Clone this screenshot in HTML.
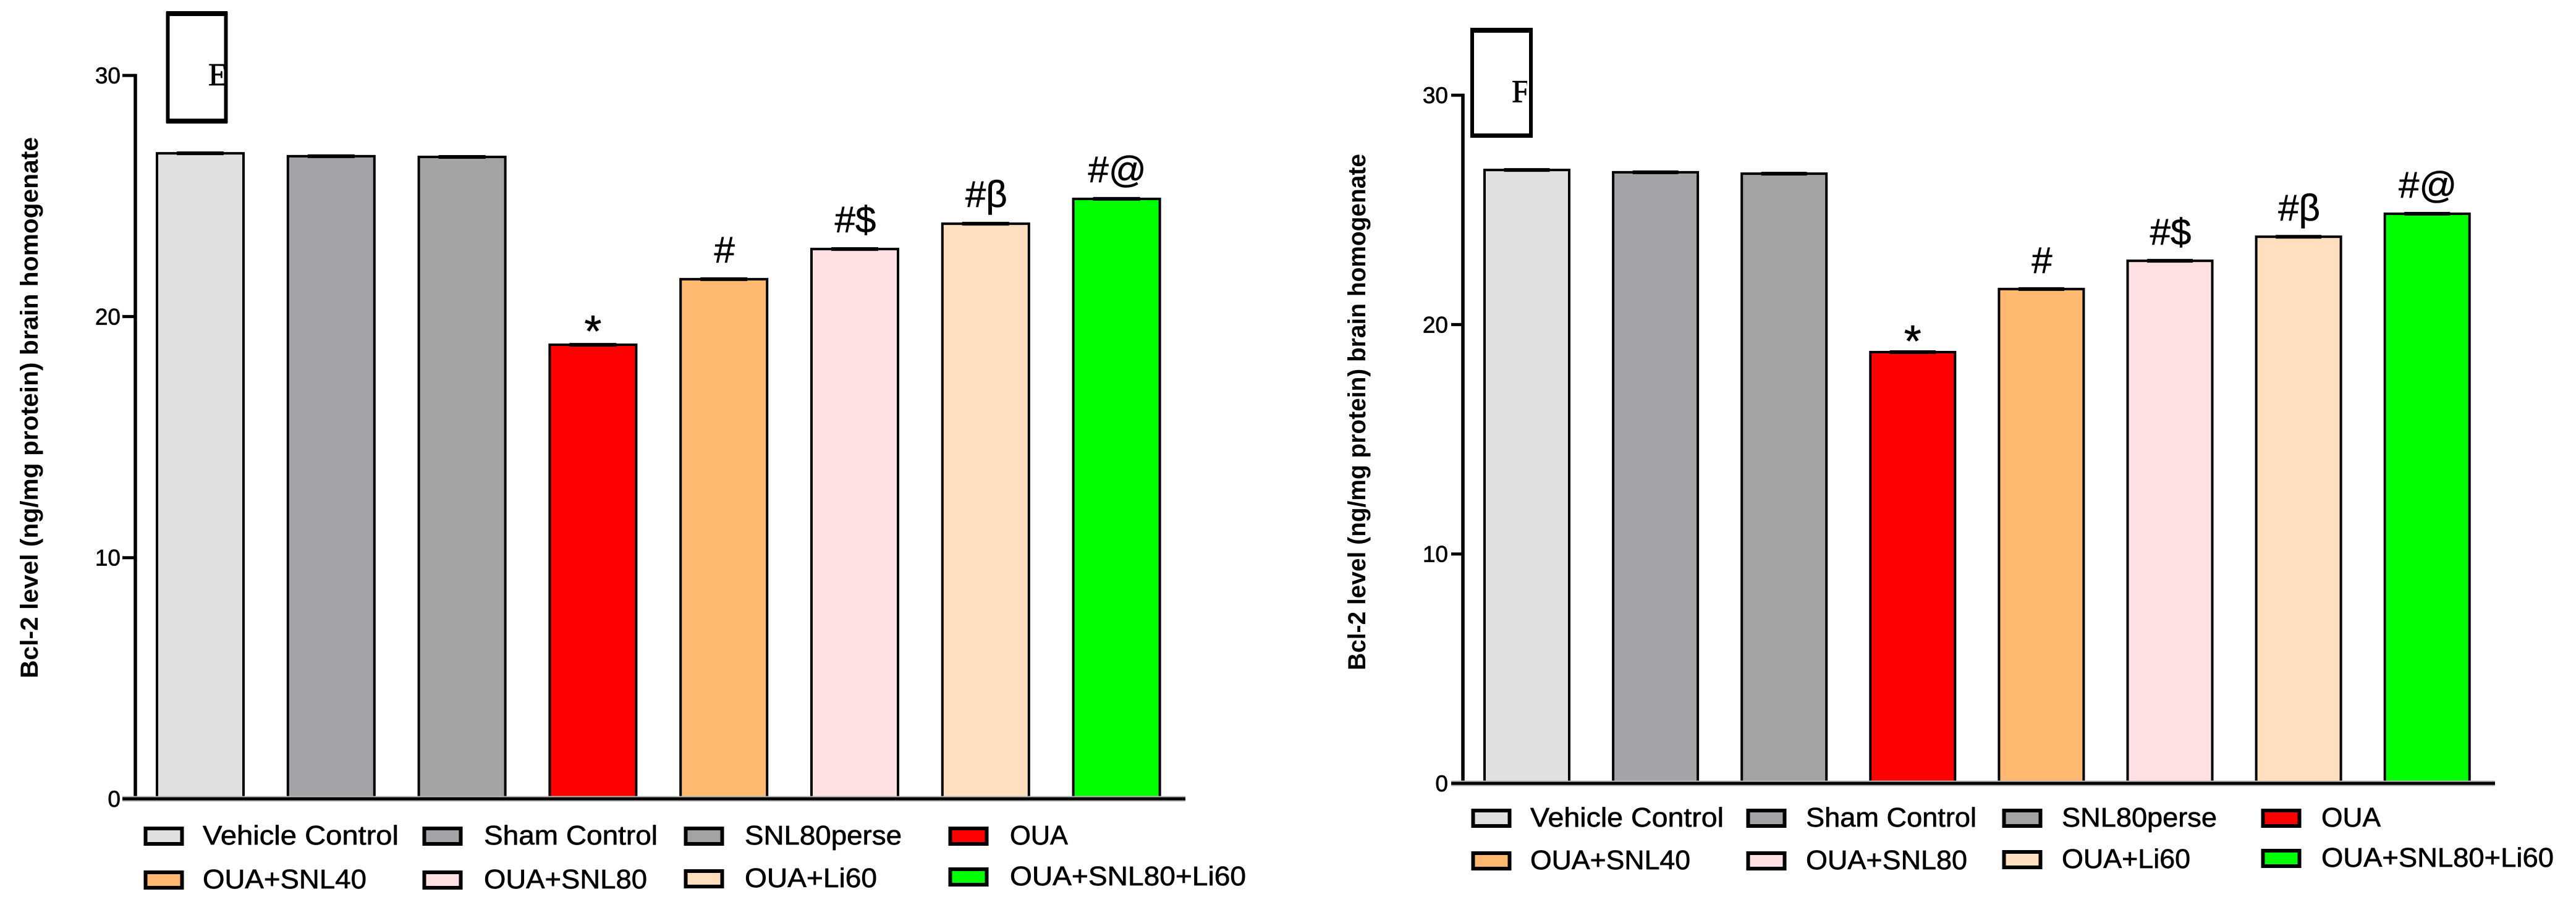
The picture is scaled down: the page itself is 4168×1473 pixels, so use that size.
<!DOCTYPE html>
<html lang="en">
<head>
<meta charset="utf-8">
<title>Bcl-2 level charts E and F</title>
<style>
html,body{margin:0;padding:0;background:#fff;}
body{width:4168px;height:1473px;overflow:hidden;}
svg{display:block;}
text{font-family:"Liberation Sans",sans-serif;fill:#000;}
</style>
</head>
<body>
<svg id="figure" width="4168" height="1473" viewBox="0 0 4168 1473" xmlns="http://www.w3.org/2000/svg">
  <rect x="0" y="0" width="4168" height="1473" fill="#ffffff"/>
  <g id="panel-e">
    <text transform="translate(61 1098) rotate(-90)" font-size="40" font-weight="bold" textLength="876" lengthAdjust="spacingAndGlyphs">Bcl-2 level (ng/mg protein) brain homogenate</text>
  </g>
  <g id="panel-f">
    <text transform="translate(2209 1085) rotate(-90)" font-size="40" font-weight="bold" textLength="836" lengthAdjust="spacingAndGlyphs">Bcl-2 level (ng/mg protein) brain homogenate</text>
  </g>
  <g>
    <rect x="271.5" y="22" width="94" height="174" fill="#fff" stroke="#000" stroke-width="6"/>
    <rect x="269" y="18" width="99" height="8" fill="#000"/>
    <rect x="269" y="192" width="99" height="8" fill="#000"/>
    <svg x="274" y="90" width="89" height="60">
      <text x="63" y="48" font-size="52" stroke="#000" stroke-width="0.8" style="font-family:'Liberation Serif',serif">E</text>
    </svg>
  </g>
  <g>
    <rect x="2382" y="49" width="95" height="171" fill="#fff" stroke="#000" stroke-width="6"/>
    <rect x="2379" y="45" width="101" height="8" fill="#000"/>
    <rect x="2379" y="216" width="101" height="7" fill="#000"/>
    <svg x="2385" y="118" width="86" height="60">
      <text x="61" y="47" font-size="52" stroke="#000" stroke-width="0.8" style="font-family:'Liberation Serif',serif">F</text>
    </svg>
  </g>
</svg>
<script>
var categories = ["Vehicle Control","Sham Control","SNL80perse","OUA","OUA+SNL40","OUA+SNL80","OUA+Li60","OUA+SNL80+Li60"];
var valuesE = [26.77,26.65,26.62,18.83,21.55,22.8,23.85,24.88];
var valuesF = [26.74,26.64,26.58,18.8,21.55,22.78,23.83,24.83];
var errorsE = [0.05,0.05,0.05,0.05,0.05,0.05,0.05,0.05];
var errorsF = [0.05,0.05,0.05,0.05,0.05,0.05,0.05,0.05];
var annotations = ["","","","*","#","#$","#\u03B2","#@"];
var tickValues = [0,10,20,30];
var tickLabels = ["0","10","20","30"];
var barColors = ["#e0e0e0","#a3a4a8","#a3a3a3","#ff0000","#ffb870","#ffe0e3","#ffdfbd","#00ff00"];

var NS = "http://www.w3.org/2000/svg";

function node(tag, attrs, parent) {
  var el = document.createElementNS(NS, tag);
  for (var k in attrs) { el.setAttribute(k, attrs[k]); }
  parent.appendChild(el);
  return el;
}

function drawChart(cfg) {
  var g = document.getElementById(cfg.groupId);
  function y(v) { return cfg.y0 - v * cfg.pxPerUnit; }
  function x(i) { return cfg.barStart + i * cfg.barPitch; }

  cfg.values.forEach(function (v, i) {
    var bar = node("rect", {x: x(i), y: y(v), width: cfg.barWidth, height: cfg.y0 - y(v), fill: barColors[i], stroke: "#000", "stroke-width": cfg.barStroke}, g);
    
    

    var cx = x(i) + cfg.barWidth / 2;
    var cap = node("line", {x1: cx - cfg.capWidth / 2, x2: cx + cfg.capWidth / 2, y1: y(v), y2: y(v), stroke: "#000", "stroke-width": 6}, g);
    
    

    var stem = node("line", {x1: cx, x2: cx, y1: y(v), y2: y(v + cfg.errors[i]), stroke: "#000", "stroke-width": 3}, g);
    
    

    if (annotations[i]) {
      var star = annotations[i] === "*";
      var note = node("text", {x: cx + (star ? cfg.starShift : 1), y: y(v) - (star ? cfg.starOffset : cfg.noteOffset), "font-size": star ? 72 : 60, "text-anchor": "middle", stroke: "#000", "stroke-width": 0.6}, g);
      note.textContent = annotations[i];
      
      
    }
  });

  var yAxis = node("line", {x1: cfg.axisX, x2: cfg.axisX, y1: y(tickValues[tickValues.length - 1]) - 2.5, y2: cfg.y0, stroke: "#000", "stroke-width": 5.5}, g);
  
  

  var halo = node("line", {x1: cfg.axisStart, x2: cfg.axisEnd, y1: cfg.y0, y2: cfg.y0, stroke: "#b8b8b8", "stroke-width": 9}, g);
  
  

  var xAxis = node("line", {x1: cfg.axisStart, x2: cfg.axisEnd, y1: cfg.y0, y2: cfg.y0, stroke: "#000", "stroke-width": 5}, g);
  
  

  tickValues.forEach(function (t, i) {
    var tick = node("line", {x1: cfg.axisStart, x2: cfg.axisX, y1: y(t), y2: y(t), stroke: "#000", "stroke-width": 5}, g);
    
    

    var label = node("text", {x: cfg.tickLabelX, y: y(t) + 13, "font-size": 37, "text-anchor": "end", stroke: "#000", "stroke-width": 0.7}, g);
    label.textContent = tickLabels[i];
    
    
  });

  categories.forEach(function (name, i) {
    var col = i % 4;
    var row = i < 4 ? 0 : 1;
    var swatchTop = row === 0 ? cfg.legendRow1 : cfg.legendRow2[col];
    var sw = node("rect", {x: cfg.legendSwatchX[col] + 2.5, y: swatchTop + 3, width: 59, height: 25, fill: barColors[i], stroke: "#000", "stroke-width": 6}, g);
    
    

    var txt = node("text", {x: cfg.legendTextX[col], y: swatchTop + 29, "font-size": 44, textLength: cfg.legendWidths[i], lengthAdjust: "spacingAndGlyphs", stroke: "#000", "stroke-width": 0.7}, g);
    txt.textContent = name;
    
    
  });
}

drawChart({
  groupId: "panel-e", values: valuesE, errors: errorsE,
  y0: 1293, pxPerUnit: 39.03, barStart: 254, barPitch: 211.8, barWidth: 140, barStroke: 4, capWidth: 76,
  noteOffset: 27, starOffset: -3, starShift: 0,
  axisX: 219, axisStart: 198, axisEnd: 1918, tickLabelX: 195,
  legendRow1: 1338, legendRow2: [1409, 1409, 1407, 1404],
  legendSwatchX: [233, 684, 1107, 1535], legendTextX: [328, 783, 1205, 1634],
  legendWidths: [317, 281, 254, 94, 265, 264, 214, 382]
});

drawChart({
  groupId: "panel-f", values: valuesF, errors: errorsF,
  y0: 1268, pxPerUnit: 37.13, barStart: 2402, barPitch: 208.1, barWidth: 137, barStroke: 4, capWidth: 74,
  noteOffset: 26, starOffset: -7, starShift: 0,
  axisX: 2367, axisStart: 2348, axisEnd: 4037, tickLabelX: 2343,
  legendRow1: 1309, legendRow2: [1378, 1378, 1376, 1374],
  legendSwatchX: [2381, 2826, 3240, 3659], legendTextX: [2476, 2922, 3336, 3756],
  legendWidths: [313, 276, 251, 96, 259, 261, 208, 376]
});
</script>
</body>
</html>
